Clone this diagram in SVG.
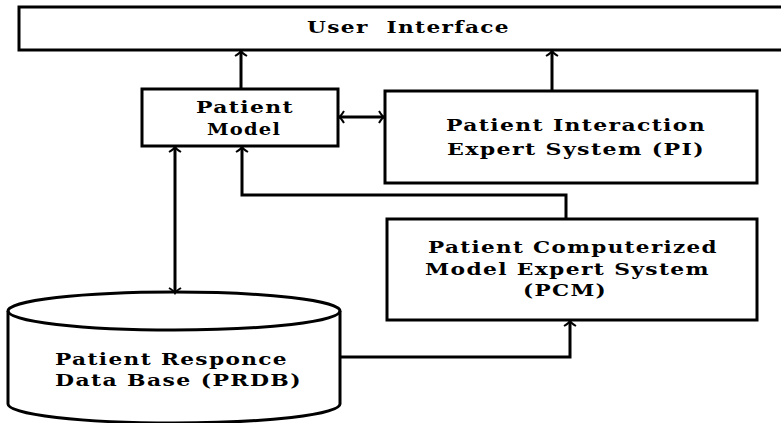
<svg xmlns="http://www.w3.org/2000/svg" width="781" height="423" viewBox="0 0 781 423">
<style>
.box{fill:#fff;stroke:#000;stroke-width:3}
.ln{fill:none;stroke:#000;stroke-width:3}
.t{font-family:"DejaVu Serif","Liberation Serif",serif;font-weight:bold;font-size:16px;letter-spacing:1px;fill:#000;white-space:pre}
</style>
<defs>
<marker id="ah" viewBox="-8 -8 10 16" markerWidth="10" markerHeight="16" refX="0" refY="0" orient="auto-start-reverse" markerUnits="userSpaceOnUse">
<path d="M-5,-6 Q-2,-1 0,0 Q-2,1 -5,6" fill="none" stroke="#000" stroke-width="2"/>
</marker>
</defs>
<rect width="781" height="423" fill="#fff"/>
<g id="ui">
<rect class="box" x="19" y="7" width="780" height="43"/>
<text class="t" x="307" y="33" textLength="203" lengthAdjust="spacingAndGlyphs">User  Interface</text>
</g>
<g id="pm">
<rect class="box" x="142" y="89" width="196" height="57"/>
<text class="t" x="196" y="113" textLength="98" lengthAdjust="spacingAndGlyphs">Patient</text>
<text class="t" x="207" y="135" textLength="74" lengthAdjust="spacingAndGlyphs">Model</text>
</g>
<g id="pi">
<rect class="box" x="385" y="91" width="372" height="92"/>
<text class="t" x="446" y="131" textLength="260" lengthAdjust="spacingAndGlyphs">Patient Interaction</text>
<text class="t" x="447" y="155" textLength="258" lengthAdjust="spacingAndGlyphs">Expert System (PI)</text>
</g>
<g id="pcm">
<rect class="box" x="387" y="219" width="370" height="101"/>
<text class="t" x="428" y="253" textLength="290" lengthAdjust="spacingAndGlyphs">Patient Computerized</text>
<text class="t" x="425" y="275" textLength="285" lengthAdjust="spacingAndGlyphs">Model Expert System</text>
<text class="t" x="523" y="296" textLength="84" lengthAdjust="spacingAndGlyphs">(PCM)</text>
</g>
<g id="prdb">
<path class="box" d="M8,311 A166,19 0 0 1 340,311 V404 A166,19 0 0 1 8,404 Z"/>
<path class="ln" d="M8,311 A166,19 0 0 0 340,311"/>
<text class="t" x="55" y="365" textLength="233" lengthAdjust="spacingAndGlyphs">Patient Responce</text>
<text class="t" x="55" y="386" textLength="247" lengthAdjust="spacingAndGlyphs">Data Base (PRDB)</text>
</g>
<g id="connectors">
<path class="ln" d="M241,89 V51" marker-end="url(#ah)"/>
<path class="ln" d="M552,91 V51" marker-end="url(#ah)"/>
<path class="ln" d="M339,117 H384" marker-start="url(#ah)" marker-end="url(#ah)"/>
<path class="ln" d="M175,147 V293" marker-start="url(#ah)" marker-end="url(#ah)"/>
<path class="ln" d="M566,219 V195 H242 V147" marker-end="url(#ah)"/>
<path class="ln" d="M340,357 H570 V321" marker-end="url(#ah)"/>
</g>
</svg>
